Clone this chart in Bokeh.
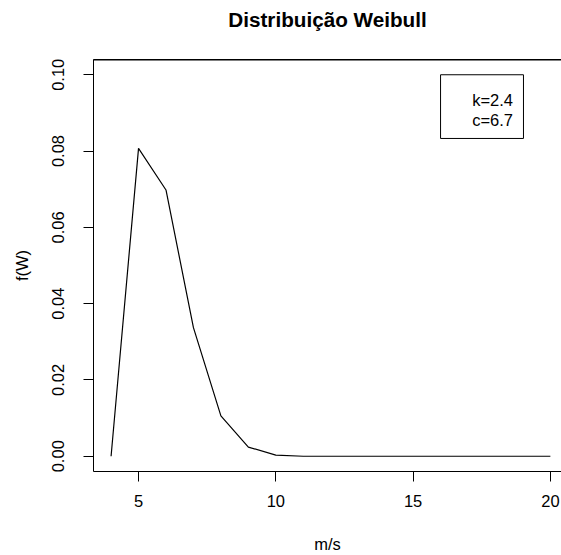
from bokeh.plotting import figure
from bokeh.models import (LinearAxis, FixedTicker, Range1d, BoxAnnotation, Label)
from bokeh.embed import file_html
from bokeh.resources import INLINE

# ---- data ----
wind_speed = [4, 5, 6, 7, 8, 9, 10, 11, 12, 13, 14, 15, 16, 17, 18, 19, 20]
density = [0.0, 0.0807, 0.0698, 0.0337, 0.0106, 0.0024, 0.0003, 0.0, 0.0,
           0.0, 0.0, 0.0, 0.0, 0.0, 0.0, 0.0, 0.0]
x_ticks = [5, 10, 15, 20]
y_ticks = [0.0, 0.02, 0.04, 0.06, 0.08, 0.10]
y_tick_labels = ["0.00", "0.02", "0.04", "0.06", "0.08", "0.10"]
legend_lines = ["k=2.4", "c=6.7"]
title_text = "Distribuição Weibull"
x_title = "m/s"
y_title = "f(W)"

FONT = "Liberation Sans"
TICK_PX = "16.5px"

p = figure(width=561, height=555, output_backend="svg", toolbar_location=None,
           x_range=Range1d(3.36, 20.405), y_range=Range1d(-0.004, 0.104),
           min_border_left=93, min_border_right=0, min_border_top=59,
           min_border_bottom=84)
p.outline_line_color = None
p.grid.visible = False
p.background_fill_color = "white"
p.border_fill_color = "white"

p.line(wind_speed, density, line_color="black", line_width=1.2)

# x axis
xa = p.xaxis[0]
xa.ticker = FixedTicker(ticks=x_ticks)
xa.major_tick_out = 10
xa.major_tick_in = 0
xa.minor_tick_line_color = None
xa.major_label_standoff = 13
xa.major_label_text_font = FONT
xa.major_label_text_font_size = TICK_PX
xa.major_label_text_color = "black"
xa.axis_label = x_title
xa.axis_label_text_font = FONT
xa.axis_label_text_font_size = TICK_PX
xa.axis_label_text_font_style = "normal"
xa.axis_label_text_color = "black"
xa.axis_label_standoff = 25
xa.axis_line_color = "black"
xa.major_tick_line_color = "black"

# y axis
ya = p.yaxis[0]
ya.ticker = FixedTicker(ticks=y_ticks)
ya.major_label_overrides = {t: s for t, s in zip(y_ticks, y_tick_labels)}
ya.major_label_orientation = "vertical"
ya.major_tick_out = 10
ya.major_tick_in = 0
ya.minor_tick_line_color = None
ya.major_label_standoff = 19
ya.major_label_text_font = FONT
ya.major_label_text_font_size = TICK_PX
ya.major_label_text_color = "black"
ya.axis_label = y_title
ya.axis_label_text_font = FONT
ya.axis_label_text_font_size = TICK_PX
ya.axis_label_text_font_style = "normal"
ya.axis_label_text_color = "black"
ya.axis_label_standoff = 19
ya.axis_line_color = "black"
ya.major_tick_line_color = "black"

# top axis carrying the chart title
top = LinearAxis(ticker=FixedTicker(ticks=[]), major_tick_out=0, major_tick_in=0,
                 minor_tick_out=0, minor_tick_in=0,
                 major_label_text_font_size="0px", axis_line_color="black",
                 axis_label=title_text, axis_label_text_font=FONT,
                 axis_label_text_font_size="20.7px",
                 axis_label_text_font_style="bold",
                 axis_label_text_color="black", axis_label_standoff=29)
p.add_layout(top, "above")

# top edge of the plot box (other edges lie outside the visible frame)
p.add_layout(BoxAnnotation(left=-100, right=100, bottom=-1,
                           fill_color=None, line_color="black", line_alpha=1.0,
                           line_width=2))

# legend box
p.add_layout(BoxAnnotation(left=16.0, right=19.02, top=0.1, bottom=0.0833,
                           fill_color=None, line_color="black", line_alpha=1.0,
                           line_width=1))
for txt, yy in zip(legend_lines, [0.0934, 0.0881]):
    p.add_layout(Label(x=17.15, y=yy, text=txt, text_font=FONT,
                       text_font_size=TICK_PX, text_baseline="middle",
                       text_align="left", text_color="black"))

open("out.html", "w").write(file_html(p, INLINE))
